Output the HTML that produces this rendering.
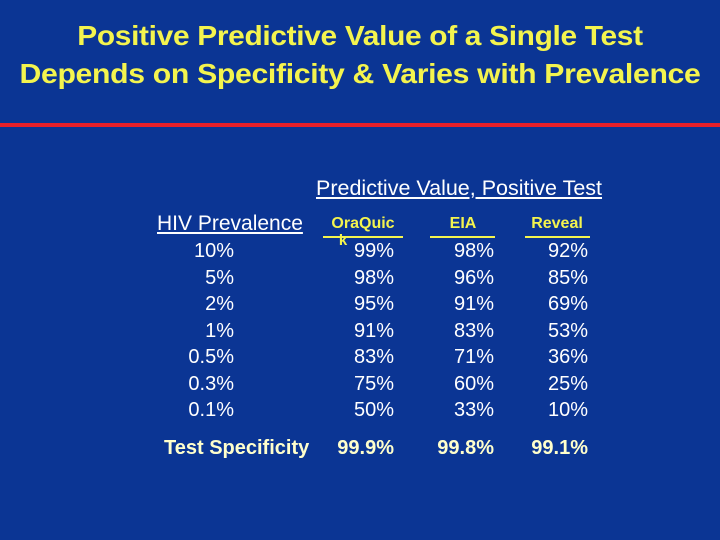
<!DOCTYPE html>
<html><head><meta charset="utf-8"><style>
html,body{margin:0;padding:0}
body{width:720px;height:540px;background:#0b3594;position:relative;overflow:hidden;font-family:"Liberation Sans",sans-serif}
.t{position:absolute;left:0;width:720px;text-align:center;color:#f4f44e;font-size:28px;font-weight:bold;letter-spacing:-0.3px;white-space:nowrap;transform-origin:360px 50%}
.c{position:absolute;color:#fff;font-size:20px;white-space:nowrap;line-height:1}
.r{text-align:right}
.h{position:absolute;color:#f4f44e;font-weight:bold;font-size:16px;text-align:center;line-height:1}
.ul{position:absolute;height:2px;background:#f4f44e}
.s{color:#ffffcc;font-weight:bold}
</style></head><body>
<div class="t" style="top:20px;transform:scaleX(1.067)">Positive Predictive Value of a Single Test</div>
<div class="t" style="top:58px;transform:scaleX(1.078)">Depends on Specificity &amp; Varies with Prevalence</div>
<div style="position:absolute;left:0;top:123px;width:720px;height:4px;background:#e8202a"></div>
<div class="c" style="left:316px;top:178px;font-size:21.5px;text-decoration:underline">Predictive Value, Positive Test</div>
<div class="c" style="left:157px;top:213px;font-size:21px;text-decoration:underline">HIV Prevalence</div>
<div class="h" style="left:313px;top:216px;width:100px">OraQuic</div>
<div class="h" style="left:333px;top:233px;width:20px;font-size:15px">k</div>
<div class="ul" style="left:323px;top:236px;width:80px"></div>
<div class="h" style="left:413px;top:216px;width:100px">EIA</div>
<div class="ul" style="left:430px;top:236px;width:65px"></div>
<div class="h" style="left:507px;top:216px;width:100px">Reveal</div>
<div class="ul" style="left:525px;top:236px;width:65px"></div>
<div id="rows"></div>
<script>
const prevalence=["10%","5%","2%","1%","0.5%","0.3%","0.1%"];
const oraquick=["99%","98%","95%","91%","83%","75%","50%"];
const eia=["98%","96%","91%","83%","71%","60%","33%"];
const reveal=["92%","85%","69%","53%","36%","25%","10%"];
const specificity=["99.9%","99.8%","99.1%"];
const host=document.getElementById('rows');
const rightEdges=[234,394,494,588];
const cols=[prevalence,oraquick,eia,reveal];
const colNames=['prevalence','oraquick','eia','reveal'];
function cell(text,right,top,cls,name){
  const d=document.createElement('div');
  d.className='c r '+cls;
  d.style.left=(right-150)+'px';d.style.width='150px';d.style.top=top+'px';
  d.textContent=text;
  
  
  host.appendChild(d);
}
for(let i=0;i<prevalence.length;i++){
  for(let j=0;j<4;j++){
    cell(cols[j][i],rightEdges[j],241+i*26.5,'',colNames[j]+'-cell');
  }
}
const lab=document.createElement('div');
lab.className='c s';
lab.style.left='164px';lab.style.top='438px';
lab.textContent='Test Specificity';


host.appendChild(lab);
for(let j=0;j<3;j++){
  cell(specificity[j],rightEdges[j+1],438,'s','specificity-'+colNames[j+1]);
}
</script>
</body></html>
